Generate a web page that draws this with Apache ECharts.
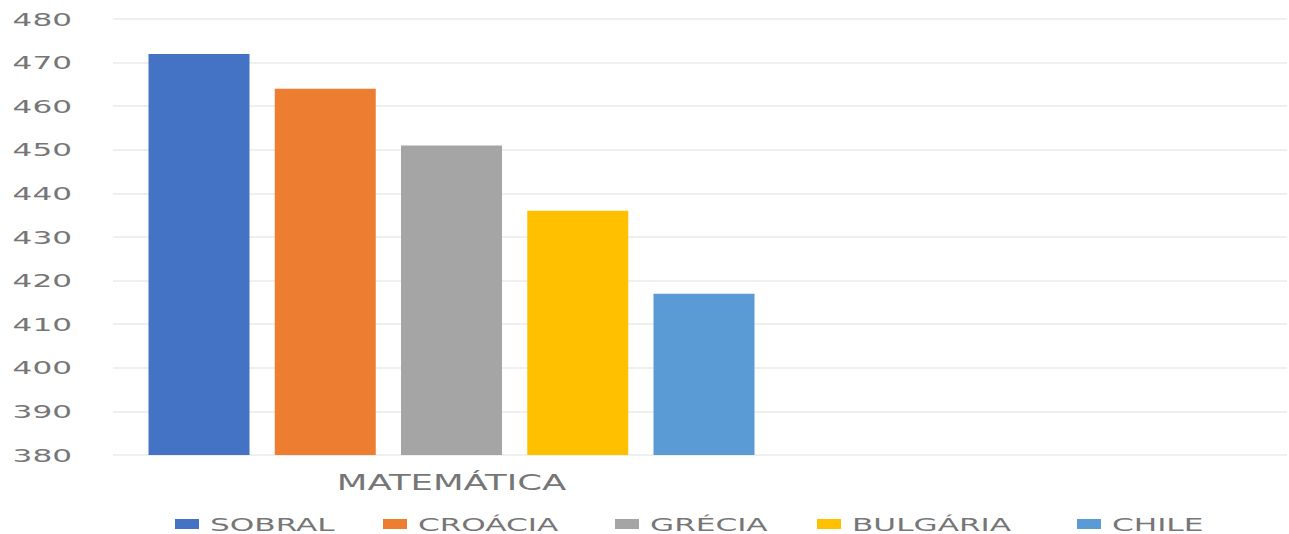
<!DOCTYPE html>
<html>
<head>
<meta charset="utf-8">
<script src="https://cdn.jsdelivr.net/npm/echarts@6/dist/echarts.min.js"></script>
<style>
  html, body { margin: 0; padding: 0; background: #ffffff; }
  #chart { width: 1289px; height: 534px; }
</style>
</head>
<body>
<div id="chart"></div>
<script>
// ---- data ----
const categories = ['MATEMÁTICA'];
const seriesNames = ['SOBRAL', 'CROÁCIA', 'GRÉCIA', 'BULGÁRIA', 'CHILE'];
const sobral = [472];
const croacia = [464];
const grecia = [451];
const bulgaria = [436];
const chile = [417];
const seriesValues = [sobral, croacia, grecia, bulgaria, chile];
const seriesColors = ['#4472C4', '#ED7D31', '#A5A5A5', '#FFC000', '#5B9BD5'];
const yMin = 380, yMax = 480, yStep = 10;

// ---- layout ----
const legendLeft = [175, 383, 615, 817, 1077];
const fontFamily = '"DejaVu Sans", "Open Sans", sans-serif';
const textColor = '#767676';
const textStretch = 1.73;

const chart = echarts.init(document.getElementById('chart'), null, { renderer: 'svg' });

const series = seriesNames.map((name, i) => ({
  name: name,
  type: 'bar',
  xAxisIndex: 1,
  yAxisIndex: 1,
  data: seriesValues[i],
  barWidth: 101,
  barGap: '25%',
  itemStyle: { color: seriesColors[i] }
}));

const legends = seriesNames.map((name, i) => ({
  data: [name],
  left: legendLeft[i],
  top: 515,
  padding: 0,
  itemWidth: 24,
  itemHeight: 10,
  icon: 'rect',
  selectedMode: false,
  textStyle: { fontSize: 18, color: textColor, fontFamily: fontFamily, padding: [0, 0, 0, 6] }
}));

chart.setOption({
  animation: false,
  backgroundColor: '#ffffff',
  legend: legends,
  grid: [
    { left: 113, right: 2, top: 19, bottom: 79, containLabel: false },
    { left: 113, right: 499, top: 19, bottom: 79, containLabel: false }
  ],
  xAxis: [
    { type: 'category', gridIndex: 0, data: [''], show: false },
    {
      type: 'category', gridIndex: 1, data: categories,
      axisLine: { show: false }, axisTick: { show: false },
      axisLabel: { fontSize: 20.5, color: textColor, fontFamily: fontFamily, margin: 17 }
    }
  ],
  yAxis: [
    {
      type: 'value', gridIndex: 0, min: yMin, max: yMax, interval: yStep,
      axisLine: { show: false }, axisTick: { show: false },
      axisLabel: { fontSize: 18, color: textColor, fontFamily: fontFamily, margin: 41 },
      splitLine: { show: true, lineStyle: { color: '#efefef', width: 2 } }
    },
    {
      type: 'value', gridIndex: 1, min: yMin, max: yMax, interval: yStep,
      show: false, splitLine: { show: false }
    }
  ],
  series: series
});

// widen the glyphs like the horizontally stretched original
function stretchText() {
  document.querySelectorAll('#chart svg text').forEach(t => {
    if (t.getAttribute('data-stretched')) return;
    const w = t.getComputedTextLength();
    if (!w) return;
    t.setAttribute('textLength', (w * textStretch).toFixed(1));
    t.setAttribute('lengthAdjust', 'spacingAndGlyphs');
    t.setAttribute('data-stretched', '1');
  });
}
stretchText();
chart.on('finished', stretchText);
setTimeout(stretchText, 0);
setTimeout(stretchText, 100);
</script>
</body>
</html>
